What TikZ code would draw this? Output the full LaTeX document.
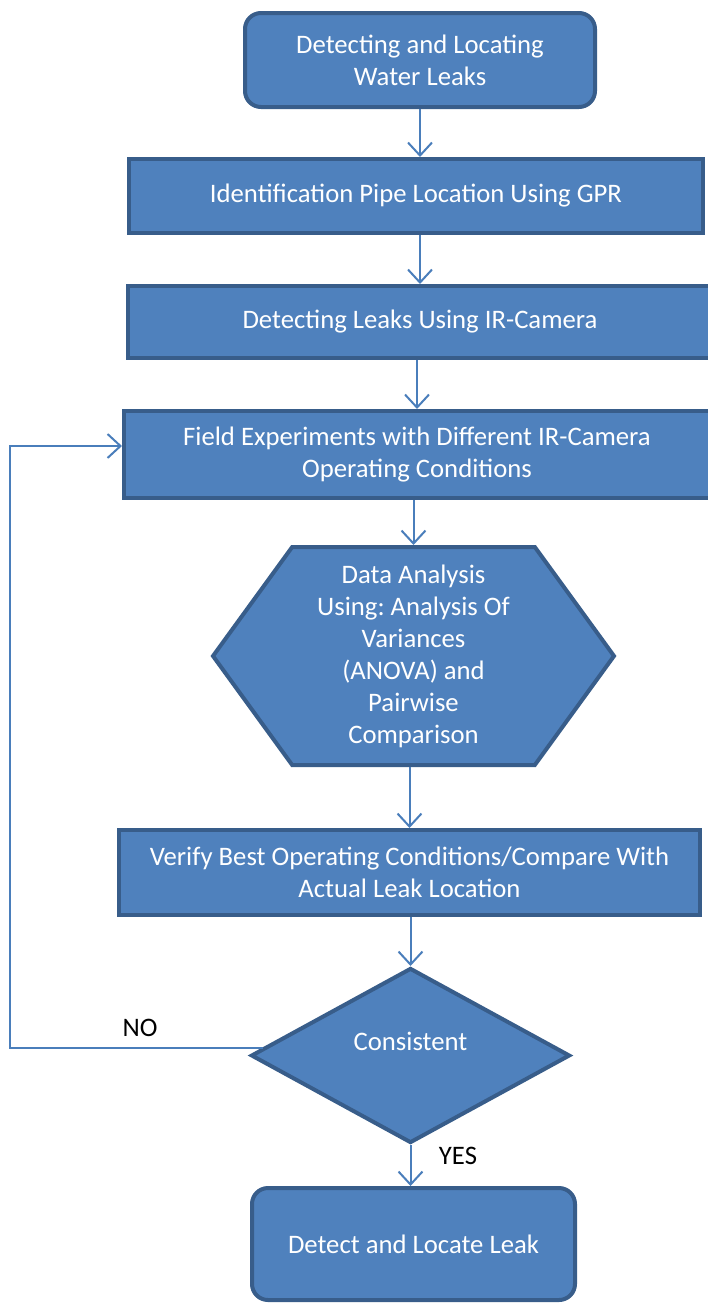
\documentclass[tikz,border=0pt]{standalone}
\usepackage{fontspec}
\setmainfont{Carlito}
\usetikzlibrary{shapes.geometric,shapes.symbols,arrows.meta}

\definecolor{boxfill}{HTML}{4F81BD}
\definecolor{boxline}{HTML}{385D8A}
\definecolor{flowline}{HTML}{4A7EBB}

\frenchspacing

\begin{document}
\begin{tikzpicture}[x=1pt,y=-1pt,>={Straight Barb[length=13pt,width=24pt]},
  font=\fontsize{26.7}{32}\selectfont,
  base node/.style={draw=boxline,fill=boxfill,line width=4pt,text=white,
    align=center,inner sep=0pt},
  term node/.style={base node,rectangle,rounded corners=16pt},
  proc node/.style={base node,rectangle},
  hex node/.style={base node,signal,signal to=west and east,
    signal pointer angle=108},
  test node/.style={base node,diamond,text depth=28pt},
  flow/.style={->,draw=flowline,line width=2pt}]

  \useasboundingbox (0,0) rectangle (707,1304);

  \node[term node,minimum width=350,minimum height=94] (start) at (420,60)
    {Detecting and Locating\\Water Leaks};
  \node[proc node,minimum width=574,minimum height=74] (gpr) at (416,196)
    {Identification Pipe Location Using GPR};
  \node[proc node,minimum width=584,minimum height=72] (ircam) at (420,322)
    {Detecting Leaks Using IR-Camera};
  \node[proc node,minimum width=586,minimum height=87] (field) at (417,454.5)
    {Field Experiments with Different IR-Camera\\Operating Conditions};
  \node[hex node,minimum width=401,minimum height=218] (anova) at (413.5,656)
    {Data Analysis\\Using: Analysis Of\\Variances\\(ANOVA) and\\Pairwise\\Comparison};
  \node[proc node,minimum width=581,minimum height=85] (verify) at (409.5,872.5)
    {Verify Best Operating Conditions/Compare With\\Actual Leak Location};
  \node[test node,minimum width=319,minimum height=175] (cons) at (410.5,1055.5)
    {Consistent};
  \node[term node,minimum width=323,minimum height=112] (done) at (413.5,1244)
    {Detect and Locate Leak};

  \node (no) at (140,1028) {NO};
  \node (yes) at (458,1156) {YES};
  \coordinate (back) at (cons.177 -| 10,0);

  \path[every edge/.style={flow}]
    (start.south) edge (start.south |- gpr.north)
    (ircam.north |- gpr.south) edge (ircam.north)
    (field.north |- ircam.south) edge (field.north)
    (anova.north |- field.south) edge (anova.north)
    (verify.north |- anova.south) edge (verify.north)
    (cons.north |- verify.south) edge (cons.north)
    (cons.south) edge (cons.south |- done.north);

  % loop back when the result is not consistent
  \draw[flow] (cons.177) -- (back) |- ([yshift=8.5pt]field.west);

\end{tikzpicture}
\end{document}
